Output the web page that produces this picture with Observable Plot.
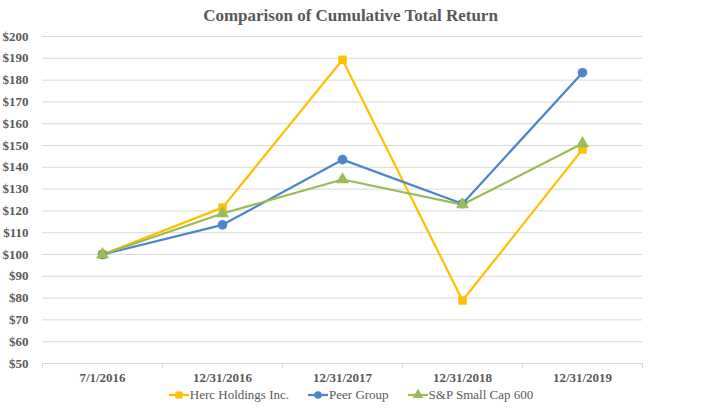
<!DOCTYPE html>
<html>
<head>
<meta charset="utf-8">
<script src="https://cdn.jsdelivr.net/npm/d3@7"></script>
<script src="https://cdn.jsdelivr.net/npm/@observablehq/plot@0.6"></script>
<style>
  body { margin: 0; background: #fff; width: 703px; overflow: hidden; }
  #title { height: 30px; line-height: 32px; text-align: center; font-weight: bold; font-size: 17px; font-family: "Liberation Serif", "Times New Roman", Tinos, "DejaVu Serif", serif; color: #595959; padding-right: 2px; }
  #legend { height: 20px; display: flex; justify-content: center; align-items: center; font-size: 13px; font-family: "Liberation Serif", "Times New Roman", Tinos, "DejaVu Serif", serif; color: #595959; padding-right: 2px; }
  .item { display: flex; align-items: center; margin: 0 9px; }
  svg text { font-family: "Liberation Serif", "Times New Roman", Tinos, "DejaVu Serif", serif; }
</style>
</head>
<body>
<div id="title">Comparison of Cumulative Total Return</div>
<div id="chart"></div>
<div id="legend"></div>
<script>
const categories = ["7/1/2016", "12/31/2016", "12/31/2017", "12/31/2018", "12/31/2019"];
const seriesNames = ["Herc Holdings Inc.", "Peer Group", "S&P Small Cap 600"];
const herc = [100, 121.5, 189.3, 78.9, 148.2];
const peer = [100, 113.6, 143.5, 123.3, 183.4];
const sp600 = [100, 118.8, 134.4, 122.9, 150.9];
const yTicks = [50, 60, 70, 80, 90, 100, 110, 120, 130, 140, 150, 160, 170, 180, 190, 200];
const colors = ["#FFC000", "#4A86CC", "#9BBB59"];
const symbols = ["square", "circle", "triangle"];

const allValues = [herc, peer, sp600];
const data = [];
allValues.forEach((vals, s) => vals.forEach((v, i) => data.push({series: seriesNames[s], i, v})));

const plot = Plot.plot({
  width: 703,
  height: 355,
  marginTop: 6,
  marginBottom: 22,
  marginLeft: 42,
  marginRight: 61,
  style: {fontFamily: "'Liberation Serif', 'Times New Roman', Tinos, 'DejaVu Serif', serif", fontSize: "13px", fontWeight: "bold", color: "#595959", background: "white"},
  x: {type: "linear", domain: [-0.5, categories.length - 0.5]},
  y: {domain: [50, 200]},
  color: {domain: seriesNames, range: colors},
  symbol: {domain: seriesNames, range: symbols},
  marks: [
    Plot.ruleY(yTicks.filter(d => d > 50), {stroke: "#d9d9d9", strokeWidth: 1}),
    Plot.ruleY([50], {stroke: "#d9d9d9", strokeWidth: 1}),
    Plot.axisY({ticks: yTicks, tickSize: 0, tickPadding: 14, tickFormat: d => "$" + d, fontWeight: "bold", label: null}),
    Plot.axisX({ticks: d3.range(categories.length + 1).map(k => k - 0.5), tickSize: 5, tickFormat: () => "", stroke: "#d9d9d9", label: null}),
    Plot.axisX({ticks: d3.range(categories.length), tickSize: 0, tickPadding: 9, tickFormat: i => categories[i], fontWeight: "bold", label: null}),
    Plot.line(data, {x: "i", y: "v", z: "series", stroke: "series", strokeWidth: 2.25}),
    Plot.dot(data, {x: "i", y: "v", fill: "series", symbol: "series", r: 4.8, stroke: "none"})
  ]
});
document.getElementById("chart").appendChild(plot);

const legend = document.getElementById("legend");
seriesNames.forEach((name, s) => {
  const item = document.createElement("div");
  item.className = "item";
  const sym = d3.symbol(s === 0 ? d3.symbolSquare : s === 1 ? d3.symbolCircle : d3.symbolTriangle, s === 1 ? 45 : 50)();
  item.innerHTML = `<svg width="22" height="14"><line x1="1" x2="21" y1="7" y2="7" stroke="${colors[s]}" stroke-width="2.25"/><path d="${sym}" transform="translate(11,7)" fill="${colors[s]}"/></svg><span>${name.replace("&", "&amp;")}</span>`;
  legend.appendChild(item);
});
</script>
</body>
</html>
